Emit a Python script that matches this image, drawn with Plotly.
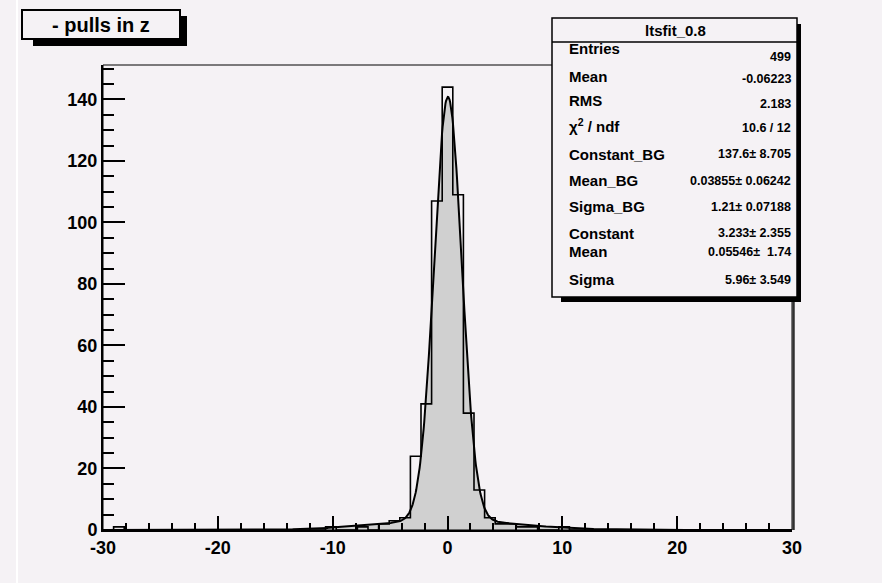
import numpy as np
import plotly.graph_objects as go

# ---- histogram: 65 bins on [-30, 30] ----
n_bins = 65
x_low, x_high = -30.0, 30.0
counts = [
    0, 1, 0, 0, 0, 0, 0, 0, 0, 0,
    0, 0, 0, 0, 0, 0, 0, 0, 0, 0,
    0, 1, 0, 0, 1, 0, 2, 3, 4, 24,
    41, 107, 144, 109, 38, 13, 4, 2, 2, 1,
    1, 0, 0, 1, 0, 0, 0, 0, 0, 0,
    0, 0, 0, 0, 0, 0, 0, 0, 0, 0,
    0, 0, 0, 0, 0,
]

# ---- fit parameters (gaussian core + broad gaussian) ----
constant_bg = 137.6
mean_bg = 0.03855
sigma_bg = 1.21
constant_br = 3.233
mean_br = 0.05546
sigma_br = 5.96

# ---- statistics box ----
stat_title = "ltsfit_0.8"
stat_names = ["Entries", "Mean", "RMS", "χ<sup>2</sup> / ndf", "Constant_BG",
              "Mean_BG", "Sigma_BG", "Constant", "Mean", "Sigma"]
stat_values = ["499", "-0.06223", "2.183", "10.6 / 12", "137.6± 8.705",
               "0.03855± 0.06242", "1.21± 0.07188", "3.233± 2.355",
               "0.05546±  1.74", "5.96± 3.549"]

hist_title = "- pulls in z"

x_ticks = [-30, -20, -10, 0, 10, 20, 30]
y_ticks = [0, 20, 40, 60, 80, 100, 120, 140]

# ---- layout geometry (pixels) ----
FIG_W, FIG_H = 882, 583
L, R, T, B = 103, 792, 65, 530
BG = "#f5f2f5"
FONT = "Liberation Sans, Arial, sans-serif"


def px(x):
    return (x - L) / (R - L)


def py(y):
    return (B - y) / (B - T)


edges = np.linspace(x_low, x_high, n_bins + 1)
y_max = 1.05 * max(counts)

xf = np.linspace(x_low, x_high, 1200)
yf = (constant_bg * np.exp(-0.5 * ((xf - mean_bg) / sigma_bg) ** 2)
      + constant_br * np.exp(-0.5 * ((xf - mean_br) / sigma_br) ** 2))

fig = go.Figure()

# filled area under the fit function
fig.add_trace(go.Scatter(x=xf, y=yf, mode="lines", line=dict(width=0, color="#d0d0d0"),
                         fill="tozeroy", fillcolor="#d0d0d0", hoverinfo="skip",
                         showlegend=False))
# histogram outline
fig.add_trace(go.Scatter(x=edges, y=list(counts) + [counts[-1]], mode="lines",
                         line=dict(shape="hv", color="black", width=1.6),
                         showlegend=False))
# fit curve
fig.add_trace(go.Scatter(x=xf, y=yf, mode="lines", line=dict(color="black", width=2),
                         showlegend=False))

shapes = []
# frame
shapes.append(dict(type="rect", xref="paper", yref="paper", x0=0, x1=1, y0=0, y1=1,
                   line=dict(color="black", width=1)))
shapes.append(dict(type="line", xref="paper", yref="paper", x0=px(793.5), x1=px(793.5),
                   y0=0, y1=1, line=dict(color="#303030", width=2.5)))
# pad edge highlight
shapes.append(dict(type="line", xref="paper", yref="paper", x0=px(17), x1=px(17),
                   y0=py(0), y1=py(FIG_H), line=dict(color="white", width=2)))

# title box with shadow
shapes.append(dict(type="rect", xref="paper", yref="paper", x0=px(33), x1=px(187),
                   y0=py(46), y1=py(16), fillcolor="black", line=dict(width=0), layer="above"))
shapes.append(dict(type="rect", xref="paper", yref="paper", x0=px(22), x1=px(180),
                   y0=py(39), y1=py(10), fillcolor=BG, line=dict(color="black", width=2),
                   layer="above"))

# statistics box with shadow
shapes.append(dict(type="rect", xref="paper", yref="paper", x0=px(561), x1=px(801),
                   y0=py(302), y1=py(24), fillcolor="black", line=dict(width=0), layer="above"))
shapes.append(dict(type="rect", xref="paper", yref="paper", x0=px(552), x1=px(797),
                   y0=py(297), y1=py(18), fillcolor=BG, line=dict(color="black", width=1.5),
                   layer="above"))
shapes.append(dict(type="line", xref="paper", yref="paper", x0=px(552), x1=px(797),
                   y0=py(42), y1=py(42), line=dict(color="black", width=1.5), layer="above"))

annotations = []
annotations.append(dict(x=px(101), y=py(25), xref="paper", yref="paper", text=hist_title,
                        showarrow=False, xanchor="center", yanchor="middle",
                        font=dict(family=FONT, size=20, color="black", weight="bold")))
annotations.append(dict(x=px(675), y=py(30), xref="paper", yref="paper", text=stat_title,
                        showarrow=False, xanchor="center", yanchor="middle",
                        font=dict(family=FONT, size=15, color="black", weight="bold")))

label_y = [49, 76, 100, 125, 154, 180, 206, 233, 251, 279]
value_y = [57, 79, 104, 128, 154, 181, 207, 233, 252, 280]
for name, val, ly, vy in zip(stat_names, stat_values, label_y, value_y):
    annotations.append(dict(x=px(567), y=py(ly), xref="paper", yref="paper", text=name,
                            showarrow=False, xanchor="left", yanchor="middle",
                            font=dict(family=FONT, size=15, color="black", weight="bold")))
    annotations.append(dict(x=px(793), y=py(vy), xref="paper", yref="paper", text=val,
                            showarrow=False, xanchor="right", yanchor="middle",
                            font=dict(family=FONT, size=12.5, color="black", weight="bold")))

tick_font = dict(family=FONT, size=18, color="black", weight="bold")

fig.update_layout(
    width=FIG_W, height=FIG_H,
    margin=dict(l=L, r=FIG_W - R, t=T, b=FIG_H - B, pad=0),
    paper_bgcolor=BG, plot_bgcolor=BG,
    shapes=shapes, annotations=annotations,
    xaxis=dict(range=[x_low, x_high], tickvals=x_ticks, ticktext=[str(v) for v in x_ticks],
               ticks="inside", ticklen=14,
               tickwidth=2, tickcolor="black", showgrid=False, zeroline=False,
               showline=True, linecolor="black", linewidth=2, tickfont=tick_font,
               minor=dict(dtick=2, ticks="inside", ticklen=7, tickwidth=2, tickcolor="black")),
    yaxis=dict(range=[0, y_max], tickvals=y_ticks, ticktext=[str(v) for v in y_ticks],
               ticks="inside", ticklen=22,
               tickwidth=2, tickcolor="black", showgrid=False, zeroline=False,
               showline=True, linecolor="black", linewidth=2, tickfont=tick_font,
               minor=dict(dtick=5, ticks="inside", ticklen=11, tickwidth=2, tickcolor="black")),
)

fig.write_html("out.html")
